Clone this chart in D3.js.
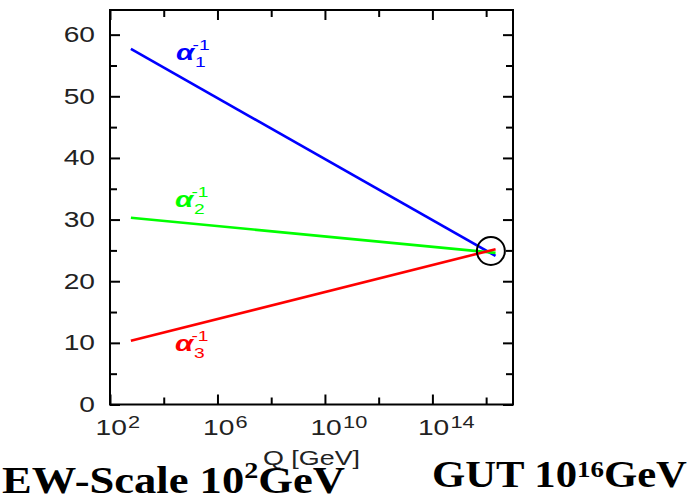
<!DOCTYPE html>
<html><head><meta charset="utf-8">
<script src="https://cdn.jsdelivr.net/npm/d3@7"></script>
<style>body{margin:0;background:#fff}svg{display:block}</style>
</head><body>
<svg id="chart" width="697" height="499"></svg>
<script>
// One-loop running of the inverse gauge couplings from the electroweak scale to the GUT scale
const qEnds = [6.0e2, 2.24e16];           // Q [GeV] at the two ends of each line
const alpha1Inv = [57.7, 24.1];
const alpha2Inv = [30.3, 24.6];
const alpha3Inv = [10.35, 25.2];
const seriesIndex = ["1", "2", "3"];
const seriesColors = ["#0000ff", "#00ff00", "#ff0000"];
const labelQ = [2.86e4, 2.6e4, 2.6e4];
const labelV = [55.9, 32.0, 8.7];
const unifQ = 1.5e16, unifV = 24.9;       // convergence point
const xMajorExp = [2, 6, 10, 14];
const xMinorExp = [4, 8, 12, 16];
const yMajor = [0, 10, 20, 30, 40, 50, 60];
const yMinor = [5, 15, 25, 35, 45, 55];
const xDomain = [1e2, 1e17];
const yDomain = [0, 64];
const xTitle = "Q [GeV]";

const svg = d3.select("#chart");
const L = 110, R = 513, T = 10, B = 404.5;
const SX = 1.28;   // horizontal stretch of the sans-serif lettering
const sans = "'Liberation Sans', Arial, Helvetica, sans-serif";
const serif = "'Liberation Serif', 'Times New Roman', serif";

const x = d3.scaleLog().domain(xDomain).range([L, R]);
const y = d3.scaleLinear().domain(yDomain).range([B, T]);

const tickStyle = g => {
  g.select(".domain").remove();
  g.selectAll(".tick line").attr("stroke", "#000").attr("stroke-width", 2);
};

// x axes: bottom (labelled) and top, major and minor ticks pointing inward
const gxB = svg.append("g").attr("transform", `translate(0,${B})`)
  .call(d3.axisBottom(x).tickValues(xMajorExp.map(e => 10 ** e)).tickSize(-10).tickFormat(""))
  .call(tickStyle);
svg.append("g").attr("transform", `translate(0,${B})`)
  .call(d3.axisBottom(x).tickValues(xMinorExp.map(e => 10 ** e)).tickSize(-7).tickFormat(""))
  .call(tickStyle).selectAll("text").remove();
svg.append("g").attr("transform", `translate(0,${T})`)
  .call(d3.axisTop(x).tickValues(xMajorExp.map(e => 10 ** e)).tickSize(-10).tickFormat(""))
  .call(tickStyle).selectAll("text").remove();
svg.append("g").attr("transform", `translate(0,${T})`)
  .call(d3.axisTop(x).tickValues(xMinorExp.map(e => 10 ** e)).tickSize(-7).tickFormat(""))
  .call(tickStyle).selectAll("text").remove();

// y axes: left (labelled) and right
const gyL = svg.append("g").attr("transform", `translate(${L},0)`)
  .call(d3.axisLeft(y).tickValues(yMajor).tickSize(-10).tickFormat(d3.format("d")))
  .call(tickStyle);
svg.append("g").attr("transform", `translate(${L},0)`)
  .call(d3.axisLeft(y).tickValues(yMinor).tickSize(-7).tickFormat(""))
  .call(tickStyle).selectAll("text").remove();
svg.append("g").attr("transform", `translate(${R},0)`)
  .call(d3.axisRight(y).tickValues(yMajor).tickSize(-10).tickFormat(""))
  .call(tickStyle).selectAll("text").remove();
svg.append("g").attr("transform", `translate(${R},0)`)
  .call(d3.axisRight(y).tickValues(yMinor).tickSize(-7).tickFormat(""))
  .call(tickStyle).selectAll("text").remove();

// y tick labels
gyL.selectAll(".tick text")
  .attr("x", 0).attr("dy", null).attr("y", 0)
  .attr("transform", "translate(-15,7) scale(" + SX + ",1)")
  .attr("font-family", sans).attr("font-size", 22).attr("fill", "#222")
  .attr("text-anchor", "end");

// x tick labels as powers of ten
gxB.selectAll(".tick text").each(function (d) {
  const t = d3.select(this);
  t.text(null).attr("x", -11.7).attr("y", 0).attr("dy", null)
    .attr("transform", "translate(0,30.5) scale(" + SX + ",1)")
    .attr("font-family", sans).attr("font-size", 22).attr("fill", "#222")
    .attr("text-anchor", "start");
  t.append("tspan").text("10");
  t.append("tspan").attr("font-size", 17).attr("dx", 1).attr("dy", -7)
    .text(String(Math.round(Math.log10(d))));
});

// frame
svg.append("rect").attr("x", L).attr("y", T).attr("width", R - L).attr("height", B - T)
  .attr("fill", "none").attr("stroke", "#000").attr("stroke-width", 2);

// coupling lines
const series = [alpha1Inv, alpha2Inv, alpha3Inv];
const line = d3.line().x(d => x(d[0])).y(d => y(d[1]));
series.forEach((vals, i) => {
  svg.append("path")
    .datum(qEnds.map((q, k) => [q, vals[k]]))
    .attr("d", line)
    .attr("fill", "none").attr("stroke", seriesColors[i]).attr("stroke-width", 2.6);
});

// line labels: alpha_i^-1 (index below, exponent above, stacked)
series.forEach((vals, i) => {
  const px = x(labelQ[i]), py = y(labelV[i]);
  const g = svg.append("g").attr("fill", seriesColors[i]).attr("font-family", sans);
  g.append("text").attr("transform", `translate(${px},${py}) scale(${SX},1)`)
    .attr("font-size", 23).attr("font-weight", "bold").attr("font-style", "italic")
    .text("\u03b1");
  g.append("text").attr("transform", `translate(${px + 19},${py + 7}) scale(${SX},1)`)
    .attr("font-size", 15).text(seriesIndex[i]);
  g.append("text").attr("transform", `translate(${px + 16.5},${py - 10}) scale(${SX},1)`)
    .attr("font-size", 15).text("-1");
});

// unification marker
svg.append("circle").attr("cx", x(unifQ)).attr("cy", y(unifV)).attr("r", 14)
  .attr("fill", "none").attr("stroke", "#000").attr("stroke-width", 2);

// x axis title
svg.append("text").attr("transform", `translate(${(L + R) / 2},465) scale(${SX},1)`)
  .attr("text-anchor", "middle").attr("font-family", sans).attr("font-size", 21)
  .attr("fill", "#222").text(xTitle);

// scale annotations beneath the plot
function scaleNote(xPos, base, pre, sup, post, supShift, width) {
  const t = svg.append("text").attr("font-family", serif).attr("font-weight", "bold")
    .attr("font-size", 38).attr("fill", "#000");
  t.append("tspan").text(pre);
  t.append("tspan").attr("font-size", 24).attr("dy", -supShift).text(sup);
  t.append("tspan").attr("dy", supShift).text(post);
  const w = t.node().getComputedTextLength();
  t.attr("transform", `translate(${xPos},${base}) scale(${width / w},1)`);
}
scaleNote(2, 493, "EW-Scale 10", "2", "GeV", 15, 343);
scaleNote(432, 487, "GUT 10", "16", "GeV", 10, 255);
</script>
</body></html>
